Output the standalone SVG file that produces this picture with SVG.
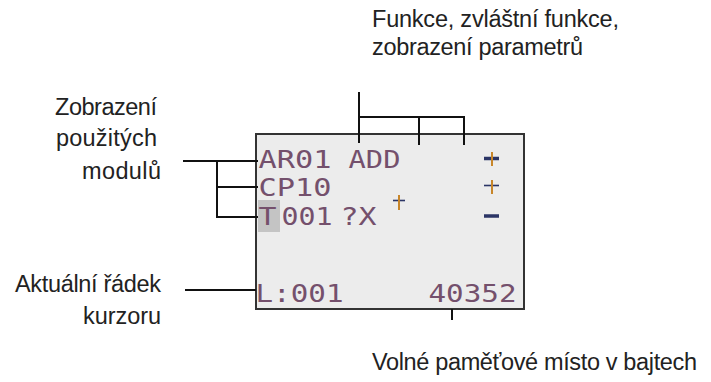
<svg xmlns="http://www.w3.org/2000/svg" width="711" height="382" viewBox="0 0 711 382">
<style>
.lbl{font-family:"Liberation Sans","Noto Sans",Arial,sans-serif;font-size:23.5px;fill:#222}
.lcd{font-family:"DejaVu Sans Mono","Liberation Mono",monospace;font-size:25px;fill:#74506c}
.ln{stroke:#111;stroke-width:2;fill:none}
.hb{stroke:#2b3566;fill:none}
.vb{stroke:#c8862a;stroke-width:2;fill:none}
</style>
<rect width="711" height="382" fill="#ffffff"/>
<g id="display">
<rect x="256" y="134" width="268" height="175" fill="#ececec" stroke="#333" stroke-width="2"/>
<rect x="258" y="200" width="22" height="32" fill="#c4c4c4"/>
<text class="lcd" x="258.5" y="168" textLength="73" lengthAdjust="spacingAndGlyphs">AR01</text>
<text class="lcd" x="348.5" y="168" textLength="52" lengthAdjust="spacingAndGlyphs">ADD</text>
<text class="lcd" x="258.5" y="196" textLength="73" lengthAdjust="spacingAndGlyphs">CP10</text>
<text class="lcd" x="258.5" y="225" textLength="18" lengthAdjust="spacingAndGlyphs">T</text>
<text class="lcd" x="281.5" y="225" textLength="51" lengthAdjust="spacingAndGlyphs">001</text>
<text class="lcd" x="340.5" y="225" textLength="36" lengthAdjust="spacingAndGlyphs">?X</text>
<text class="lcd" x="255.5" y="302" textLength="88" lengthAdjust="spacingAndGlyphs">L:001</text>
<text class="lcd" x="428.5" y="302" textLength="88" lengthAdjust="spacingAndGlyphs">40352</text>
<line class="hb" x1="484" y1="158.5" x2="499" y2="158.5" stroke-width="3.5"/>
<line class="vb" x1="492" y1="152" x2="492" y2="166"/>
<line class="hb" x1="484" y1="185.5" x2="499" y2="185.5" stroke-width="1.6"/>
<line class="vb" x1="492" y1="180" x2="492" y2="194"/>
<line class="hb" x1="484" y1="216" x2="499" y2="216" stroke-width="3.5"/>
<line class="hb" x1="393" y1="200.5" x2="405" y2="200.5" stroke-width="1.6"/>
<line class="vb" x1="399" y1="195" x2="399" y2="210"/>
</g>
<g id="label-funkce">
<text class="lbl" x="372" y="27" textLength="247" lengthAdjust="spacing">Funkce, zvláštní funkce,</text>
<text class="lbl" x="372" y="55" textLength="211" lengthAdjust="spacing">zobrazení parametrů</text>
</g>
<g id="label-moduly">
<text class="lbl" x="55" y="115" textLength="102" lengthAdjust="spacing">Zobrazení</text>
<text class="lbl" x="56" y="146" textLength="101" lengthAdjust="spacing">použitých</text>
<text class="lbl" x="82" y="179" textLength="79" lengthAdjust="spacing">modulů</text>
</g>
<g id="label-radek">
<text class="lbl" x="15" y="292" textLength="146" lengthAdjust="spacing">Aktuální řádek</text>
<text class="lbl" x="83" y="324" textLength="78" lengthAdjust="spacing">kurzoru</text>
</g>
<g id="label-pamet">
<text class="lbl" x="372" y="370" textLength="325" lengthAdjust="spacing">Volné paměťové místo v bajtech</text>
</g>
<g id="connectors">
<polyline class="ln" points="359,92 359,143"/>
<polyline class="ln" points="359,117 464,117 464,145"/>
<polyline class="ln" points="419,117 419,145"/>
<polyline class="ln" points="183,161 258,161"/>
<polyline class="ln" points="217,161 217,217 258,217"/>
<polyline class="ln" points="217,187 258,187"/>
<polyline class="ln" points="185,290 256,290" stroke="#444"/>
<polyline class="ln" points="452,309 452,320"/>
</g>
</svg>
